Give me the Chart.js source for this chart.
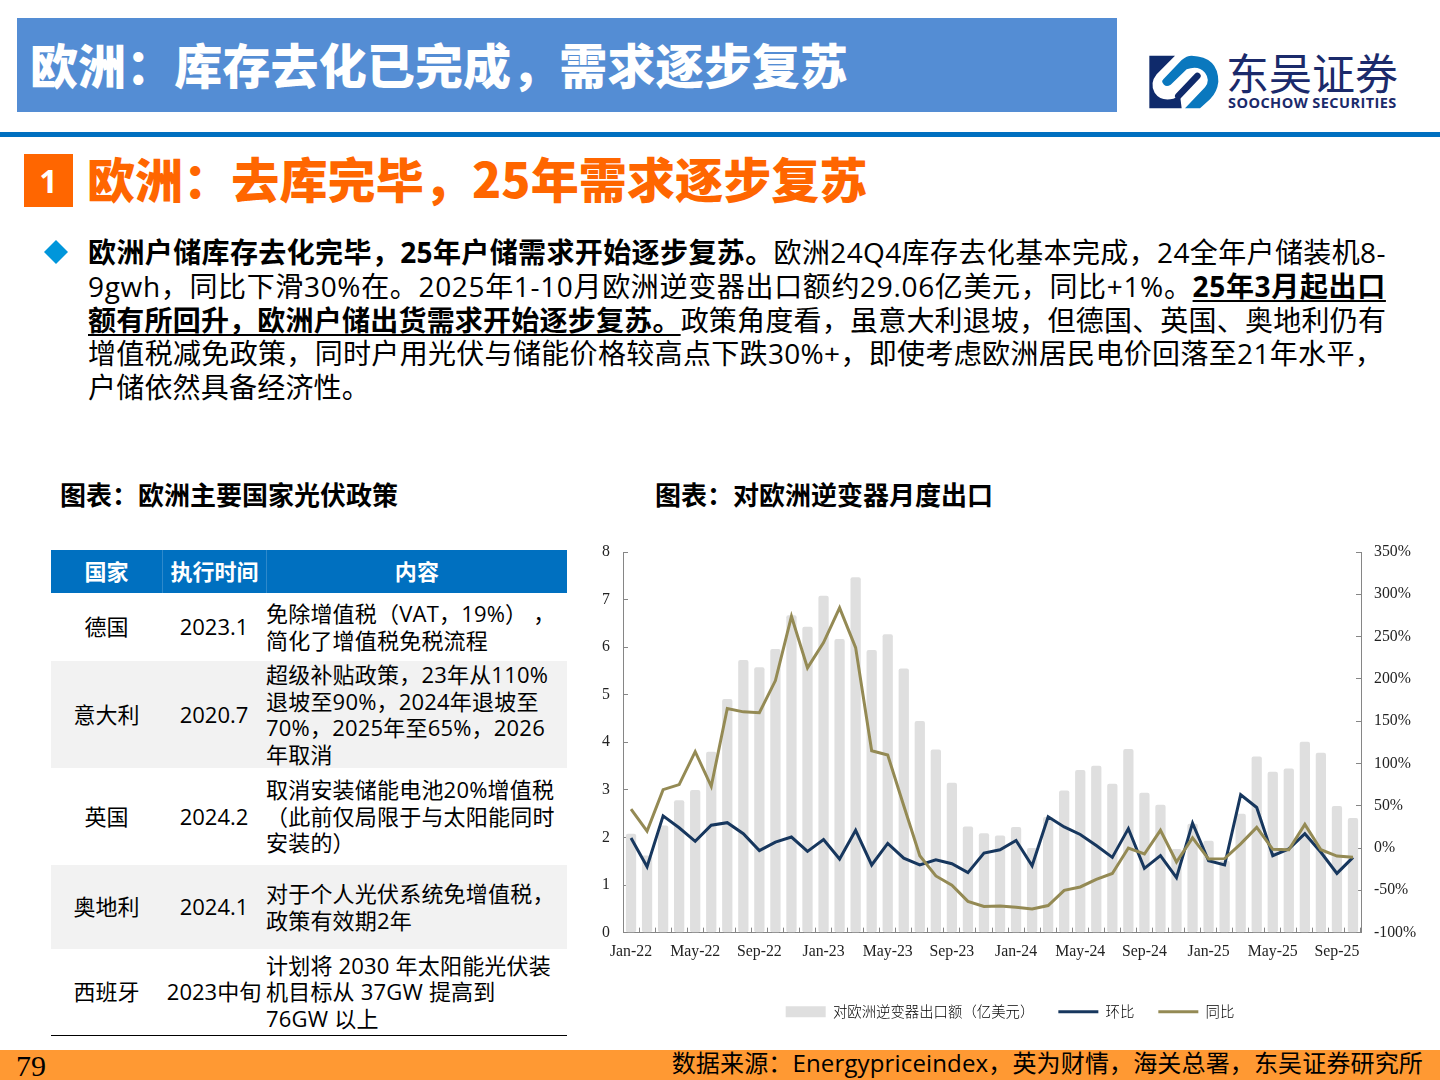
<!DOCTYPE html>
<html lang="zh-CN">
<head>
<meta charset="utf-8">
<title>欧洲：库存去化已完成，需求逐步复苏</title>
<script src="https://cdn.jsdelivr.net/npm/chart.js@4"></script>
<style>
  html, body { margin: 0; padding: 0; background: #fff; }
  body { position: relative; width: 1440px; height: 1080px; overflow: hidden; font-family: "Open Sans", "Noto Sans CJK SC", sans-serif; color: #000; }
  .abs { position: absolute; white-space: nowrap; }
  .band { left: 17px; top: 18px; width: 1100px; height: 94px; background: #548DD4; }
  .title { left: 30px; top: 28px; line-height: 70px; font-family: "Noto Sans CJK SC", sans-serif; font-size: 48px; letter-spacing: 0.12px; font-weight: 900; color: #fff; }
  .rule { left: 0; top: 132px; width: 1440px; height: 5px; background: #0070C0; }
  .num { left: 24px; top: 154px; width: 49px; height: 53px; background: #FF6600; color: #fff; font-size: 32px; font-weight: 700; line-height: 53px; text-align: center; }
  .section { left: 87px; top: 142px; line-height: 70px; font-family: "Noto Sans CJK SC", sans-serif; font-size: 48px; letter-spacing: 0.12px; font-weight: 900; color: #FF6600; }
  .bullet { left: 44px; top: 240px; width: 24px; height: 24px; background: #0096DB; clip-path: polygon(50% 0, 100% 50%, 50% 100%, 0 50%); }
  .para { left: 88px; font-size: 28px; line-height: 34px; }
  .para b { font-weight: 700; }
  .para u { font-weight: 700; text-underline-offset: 3px; text-decoration-thickness: 2px; }
  .sub { top: 475px; line-height: 38px; font-family: "Noto Sans CJK SC", sans-serif; font-size: 26px; font-weight: 700; }
  .logotext { left: 1226px; top: 40px; line-height: 62px; font-family: "Noto Sans CJK SC", sans-serif; font-size: 43px; color: #1B2A6B; }
  .logoen { left: 1228px; top: 94px; line-height: 18px; font-size: 14.5px; font-weight: 700; letter-spacing: 0.45px; color: #1B2A6B; }
  .row { position: absolute; left: 51px; width: 516px; font-size: 22px; line-height: 26.5px; }
  .row.alt { background: #F2F2F2; }
  .row.head { background: #0070C0; color: #fff; font-weight: 700; }
  .cell { position: absolute; top: 0; bottom: 1px; display: flex; align-items: center; justify-content: center; text-align: center; white-space: nowrap; }
  .c0 { left: 0; width: 111px; }
  .c1 { left: 111px; width: 104px; }
  .c2 { left: 215px; width: 301px; justify-content: flex-start; text-align: left; letter-spacing: 0.2px; }
  .head .c2 { justify-content: center; text-align: center; }
  .head .c1, .head .c2 { border-left: 1px solid #2E89CB; bottom: 0; box-sizing: border-box; }
  .tableend { left: 51px; top: 1035px; width: 516px; height: 1px; background: #000; }
  .foot { left: 0; top: 1050px; width: 1440px; height: 30px; background: #FF9933; }
  .page { left: 16px; top: 1049px; line-height: 34px; font-family: "Liberation Serif", serif; font-size: 30px; }
  .source { right: 17px; top: 1045px; line-height: 36px; font-size: 24px; letter-spacing: 0.15px; }
  #chart { position: absolute; left: 590px; top: 530px; }
</style>
</head>
<body>
<div class="abs band"></div>
<div class="abs title">欧洲：库存去化已完成，需求逐步复苏</div>
<svg class="abs" style="left:1140px;top:40px" width="90" height="80" viewBox="0 0 270 240">
  <path d="M28 47H105L50 103Q28 130 44 158Q62 185 100 176Q112 172 120 165L125 205H28Z" fill="#0F2A6B"/>
  <path d="M70 118L125 60Q140 47 155 47Q235 50 235 125Q232 155 210 178L180 205H135L195 142Q212 120 195 98Q175 75 140 88L92 134Q80 142 72 134Q62 125 70 118Z" fill="#0A78BE"/>
  <path d="M115 168L172 108" stroke="#0F2A6B" stroke-width="20" stroke-linecap="round"/>
</svg>
<div class="abs logotext">东吴证券</div>
<div class="abs logoen">SOOCHOW SECURITIES</div>
<div class="abs rule"></div>
<div class="abs num">1</div>
<div class="abs section">欧洲：去库完毕，25年需求逐步复苏</div>
<div class="abs bullet"></div>
<div class="abs para" style="top:235px;letter-spacing:0.38px"><b>欧洲户储库存去化完毕，25年户储需求开始逐步复苏。</b>欧洲24Q4库存去化基本完成，24全年户储装机8-</div>
<div class="abs para" style="top:269px;letter-spacing:0.66px">9gwh，同比下滑30%在。2025年1-10月欧洲逆变器出口额约29.06亿美元，同比+1%。<u>25年3月起出口</u></div>
<div class="abs para" style="top:303px;letter-spacing:0.22px"><u>额有所回升，欧洲户储出货需求开始逐步复苏。</u>政策角度看，虽意大利退坡，但德国、英国、奥地利仍有</div>
<div class="abs para" style="top:336px;letter-spacing:0.33px">增值税减免政策，同时户用光伏与储能价格较高点下跌30%+，即使考虑欧洲居民电价回落至21年水平，</div>
<div class="abs para" style="top:370px;letter-spacing:0.2px">户储依然具备经济性。</div>
<div class="abs sub" style="left:60px">图表：欧洲主要国家光伏政策</div>
<div class="abs sub" style="left:655px">图表：对欧洲逆变器月度出口</div>
<div id="table"></div>
<div class="abs tableend"></div>
<canvas id="chart" width="840" height="499"></canvas>
<div class="abs foot"></div>
<div class="abs page">79</div>
<div class="abs source">数据来源：Energypriceindex，英为财情，海关总署，东吴证券研究所</div>

<script>
const months = [
  'Jan-22', 'Feb-22', 'Mar-22', 'Apr-22', 'May-22', 'Jun-22', 'Jul-22', 'Aug-22', 'Sep-22', 'Oct-22', 'Nov-22', 'Dec-22',
  'Jan-23', 'Feb-23', 'Mar-23', 'Apr-23', 'May-23', 'Jun-23', 'Jul-23', 'Aug-23', 'Sep-23', 'Oct-23', 'Nov-23', 'Dec-23',
  'Jan-24', 'Feb-24', 'Mar-24', 'Apr-24', 'May-24', 'Jun-24', 'Jul-24', 'Aug-24', 'Sep-24', 'Oct-24', 'Nov-24', 'Dec-24',
  'Jan-25', 'Feb-25', 'Mar-25', 'Apr-25', 'May-25', 'Jun-25', 'Jul-25', 'Aug-25', 'Sep-25', 'Oct-25'
]
// 亿美元
const exportValue = [
  2.08, 1.62, 2.25, 2.78, 3.0, 3.8, 4.91, 5.73, 5.58, 5.96, 6.67, 6.43,
  7.08, 6.17, 7.47, 5.94, 6.27, 5.55, 4.45, 3.85, 3.15, 2.23, 2.09, 2.04,
  2.22, 1.78, 2.43, 2.99, 3.42, 3.51, 3.13, 3.86, 2.94, 2.69, 1.76, 2.29,
  1.93, 1.51, 2.5, 3.7, 3.38, 3.45, 4.01, 3.78, 2.66, 2.41
]
// 环比 %
const momChange = [
  12, -22, 38, 24, 8, 27, 30, 17, -3, 7, 13, -4,
  10, -13, 21, -20, 5.5, -12, -20, -14, -18.5, -29, -6, -2,
  9, -21, 37, 25, 16, 3, -11, 23, -24, -9, -35, 29.5,
  -15, -20, 63, 48, -9, -1, 17, -5, -30, -11
]
// 同比 %
const yoyChange = [
  46, 20, 69, 75, 114, 73, 165, 161, 160, 198, 274, 213,
  243, 284, 237, 115, 110, 50, -9, -33, -44, -63, -69, -68.5,
  -70, -72, -68, -50, -46, -37, -30, 0, -7, 21, -16.5, 12,
  -13, -12.5, 5, 24.5, -1.5, -2, 28, -2, -9.5, -11
]
const seriesNames = ['对欧洲逆变器出口额（亿美元）', '环比', '同比']

const tableHeader = ['国家', '执行时间', '内容']
const tableRows = [
  ['德国', '2023.1', '免除增值税（VAT，19%）\u00A0，<br>简化了增值税免税流程'],
  ['意大利', '2020.7', '超级补贴政策，23年从110%<br>退坡至90%，2024年退坡至<br>70%，2025年至65%，2026<br>年取消'],
  ['英国', '2024.2', '取消安装储能电池20%增值税<br>（此前仅局限于与太阳能同时<br>安装的）'],
  ['奥地利', '2024.1', '对于个人光伏系统免增值税，<br>政策有效期2年'],
  ['西班牙', '2023中旬', '计划将 2030 年太阳能光伏装<br>机目标从 37GW 提高到<br>76GW 以上']
]
const rowEdges = [550, 593, 661, 768, 865, 949, 1035]

const tableBox = document.getElementById('table')
;[tableHeader, ...tableRows].forEach((cells, i) => {
  const row = document.createElement('div')
  row.className = 'row' + (i === 0 ? ' head' : i % 2 === 0 ? ' alt' : '')
  row.style.top = rowEdges[i] + 'px'
  row.style.height = (rowEdges[i + 1] - rowEdges[i]) + 'px'
  row.innerHTML = cells.map((text, c) => `<div class="cell c${c}"><span>${text}</span></div>`).join('')
  tableBox.appendChild(row)
})

const axisColor = '#868686'
const tickFont = { family: '"Liberation Serif", serif', size: 15.8 }
const barColor = '#DFDFDF'
const momColor = '#17375E'
const yoyColor = '#948A54'

// the labels sit outside the inward ticks, so the axis must not reserve room for them
const fitYAxis = w => scale => {
  scale.width = w
  scale.paddingTop = 0
  scale.paddingBottom = 0
}

new Chart(document.getElementById('chart'), {
  type: 'bar',
  data: {
    labels: months,
    datasets: [
      { label: seriesNames[0], data: exportValue, backgroundColor: barColor, yAxisID: 'y', order: 3, barPercentage: 0.64, categoryPercentage: 1, borderRadius: 2, borderSkipped: false },
      { type: 'line', label: seriesNames[1], data: momChange, borderColor: momColor, borderWidth: 3, pointRadius: 0, tension: 0, yAxisID: 'y1', order: 2 },
      { type: 'line', label: seriesNames[2], data: yoyChange, borderColor: yoyColor, borderWidth: 3, pointRadius: 0, tension: 0, yAxisID: 'y1', order: 1 }
    ]
  },
  options: {
    responsive: false,
    animation: false,
    layout: { padding: { top: 22 } },
    scales: {
      x: {
        offset: true,
        afterFit: scale => { scale.height += 4 },
        border: { color: axisColor },
        grid: { offset: true, drawOnChartArea: false, tickLength: -5, tickColor: axisColor },
        ticks: {
          font: tickFont,
          color: '#222',
          padding: 15,
          autoSkip: false,
          maxRotation: 0,
          callback (value, index) { return index % 4 === 0 ? this.getLabelForValue(value) : '' }
        }
      },
      y: {
        position: 'left',
        min: 0,
        max: 8,
        afterFit: fitYAxis(33),
        border: { color: axisColor },
        grid: { drawOnChartArea: false, tickLength: -5, tickColor: axisColor },
        ticks: { stepSize: 1, font: tickFont, color: '#222', padding: 18 }
      },
      y1: {
        position: 'right',
        min: -100,
        max: 350,
        afterFit: fitYAxis(69),
        border: { color: axisColor },
        grid: { drawOnChartArea: false, tickLength: -5, tickColor: axisColor },
        ticks: { stepSize: 50, font: tickFont, color: '#222', padding: 18, callback: v => v + '%' }
      }
    },
    plugins: {
      tooltip: { enabled: false },
      legend: {
        position: 'bottom',
        labels: {
          usePointStyle: true,
          pointStyleWidth: 40,
          boxHeight: 11,
          padding: 24,
          color: '#333',
          font: { family: '"Noto Sans CJK SC", sans-serif', size: 14.4, weight: '300' },
          generateLabels: chart => chart.data.datasets.map((ds, i) => ({
            text: ds.label,
            datasetIndex: i,
            fillStyle: ds.type === 'line' ? ds.borderColor : ds.backgroundColor,
            strokeStyle: ds.type === 'line' ? ds.borderColor : ds.backgroundColor,
            lineWidth: ds.type === 'line' ? 3 : 0,
            pointStyle: ds.type === 'line' ? 'line' : 'rect'
          }))
        }
      }
    }
  }
})
</script>
</body>
</html>
